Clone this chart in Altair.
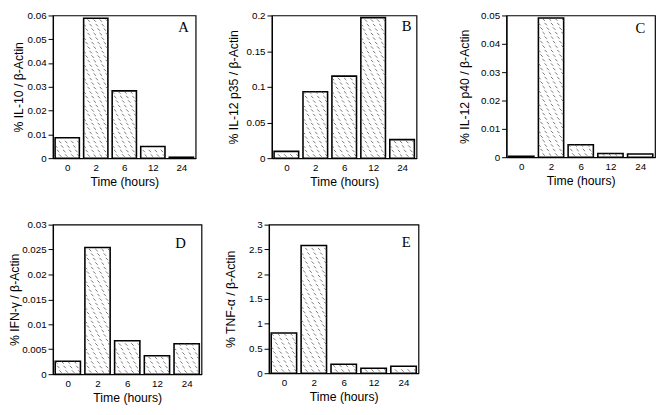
import json
import altair as alt
import pandas as pd

times = ["0", "2", "6", "12", "24"]
il10 = [0.0086, 0.0588, 0.0283, 0.0049, 0.0004]
il12p35 = [0.0095, 0.093, 0.115, 0.197, 0.026]
il12p40 = [0.0003, 0.0491, 0.0044, 0.0013, 0.0011]
ifng = [0.0026, 0.0254, 0.0067, 0.0037, 0.0061]
tnfa = [0.81, 2.58, 0.18, 0.10, 0.14]

ticks_a = [0, 0.01, 0.02, 0.03, 0.04, 0.05, 0.06]
ticks_b = [0, 0.05, 0.1, 0.15, 0.2]
ticks_c = [0, 0.01, 0.02, 0.03, 0.04, 0.05]
ticks_d = [0, 0.005, 0.01, 0.015, 0.02, 0.025, 0.03]
ticks_e = [0, 0.5, 1, 1.5, 2, 2.5, 3]

SANS = "Liberation Sans"
SERIF = "Liberation Serif"
HALF = 0.425  # half bar width, in category steps
LABEL_EXPR = json.dumps(times) + "[datum.value]"


def panel(values, ticks, ytitle, letter, w, h, lx, ly, tpad):
    ymax = ticks[-1]
    df = pd.DataFrame({"time": times, "value": values, "idx": list(range(len(times)))})
    xscale = alt.Scale(domain=[-0.5, len(times) - 0.5], nice=False, zero=False)
    yscale = alt.Scale(domain=[0, ymax], nice=False, zero=True)
    xaxis = alt.Axis(title="Time (hours)", values=list(range(len(times))),
                     labelExpr=LABEL_EXPR, ticks=False, grid=False,
                     labelPadding=5, titlePadding=3)
    yaxis = alt.Axis(title=ytitle, values=ticks, format="~g", tickSize=5,
                     labelOverlap=False, labelFlush=False,
                     labelPadding=2, titlePadding=tpad, grid=False)
    base = alt.Chart(df).transform_calculate(
        lo=f"datum.idx - {HALF}", hi=f"datum.idx + {HALF}"
    )
    bars = base.mark_rect(fill="white", stroke="black", strokeWidth=1.6).encode(
        x=alt.X("lo:Q", scale=xscale, axis=xaxis),
        x2="hi:Q",
        y=alt.Y("value:Q", scale=yscale, axis=yaxis),
        y2=alt.datum(0),
    )

    step = ymax * 4.6 / h
    hatch = base.transform_calculate(
        n=f"floor(datum.value / {step} - 0.7)"
    ).transform_filter("datum.n >= 0").transform_calculate(
        r="sequence(0, datum.n + 1)"
    ).transform_flatten(["r"]).transform_calculate(
        c="datum.r % 3 == 0 ? [2, 5, 8, 11] : (datum.r % 3 == 1 ? [1, 4, 7, 10] : [0, 3, 6, 9])",
        yy=f"(datum.r + 0.6) * {step}"
    ).transform_flatten(["c"]).transform_calculate(
        xx=f"datum.lo + (datum.c + 0.5) * {2 * HALF} / 12"
    ).mark_point(
        shape="M-1,-1L1,1", filled=False, stroke="#444", strokeWidth=0.75, size=6, opacity=1
    ).encode(
        x=alt.X("xx:Q", scale=xscale, axis=xaxis),
        y=alt.Y("yy:Q", scale=yscale, axis=yaxis),
    )

    lab = alt.Chart(pd.DataFrame({"t": [letter]})).mark_text(
        font=SERIF, fontSize=15, align="right", baseline="alphabetic", color="black"
    ).encode(text="t:N", x=alt.value(w - lx), y=alt.value(ly))

    return alt.layer(bars, hatch, lab).properties(width=w, height=h)


A = panel(il10, ticks_a, "% IL-10 / β-Actin", "A", 146, 146, 7, 17, 2)
B = panel(il12p35, ticks_b, "% IL-12 p35 / β-Actin", "B", 148, 146, 5, 16, 6)
C = panel(il12p40, ticks_c, "% IL-12 p40 / β-Actin", "C", 152, 145, 10, 18, 9)
D = panel(ifng, ticks_d, "% IFN-γ / β-Actin", "D", 152, 153, 16, 24, 0)
E = panel(tnfa, ticks_e, "% TNF-α / β-Actin", "E", 153, 152, 8, 23, 11)

top = alt.hconcat(alt.hconcat(A, B, spacing=30), C, spacing=41)
bottom = alt.hconcat(D, E, spacing=22)

chart = alt.concat(top, bottom, columns=1, align="none", spacing=30).properties(
    padding={"top": -3, "left": 0, "right": 0, "bottom": 0}
).configure_view(
    stroke="black", strokeWidth=1.2
).configure_axis(
    domainColor="black", tickColor="black", labelColor="black", titleColor="black",
    labelFont=SANS, titleFont=SANS, labelFontSize=10, titleFontSize=12.5,
    titleFontWeight="normal", domainWidth=1.2, tickWidth=1
)

chart.save("out.html", embed_options={"renderer": "svg", "actions": False})
